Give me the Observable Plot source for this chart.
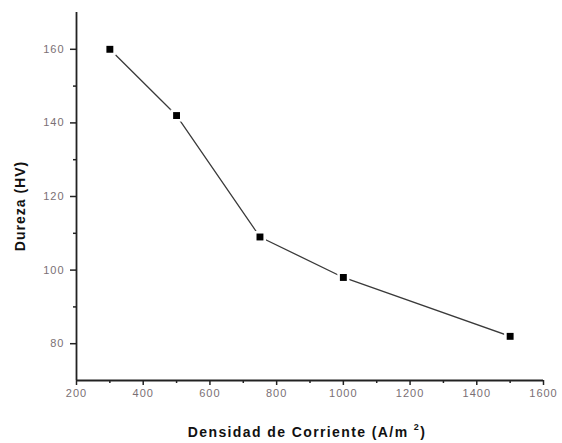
<!DOCTYPE html>
<html>
<head>
<meta charset="utf-8">
<script src="https://cdn.jsdelivr.net/npm/d3@7"></script>
<script src="https://cdn.jsdelivr.net/npm/@observablehq/plot@0.6"></script>
<style>
  html, body { margin: 0; padding: 0; background: #fff; }
  #chart { width: 562px; height: 443px; }
</style>
</head>
<body>
<div id="chart"></div>
<script>
const densidad = [300, 500, 750, 1000, 1500];
const dureza = [160, 142, 109, 98, 82];
const xTicks = [200, 400, 600, 800, 1000, 1200, 1400, 1600];
const xMinorTicks = [300, 500, 700, 900, 1100, 1300, 1500];
const yTicks = [80, 100, 120, 140, 160];
const yMinorTicks = [90, 110, 130, 150];
const xTitle = "Densidad de Corriente (A/m";
const xTitleSup = "2";
const yTitle = "Dureza (HV)";

const data = densidad.map((d, i) => ({x: d, y: dureza[i]}));
const labelColor = "#7a6f74";

const plot = Plot.plot({
  width: 562,
  height: 443,
  marginLeft: 76,
  marginRight: 19,
  marginTop: 12,
  marginBottom: 63,
  style: {fontFamily: "'Liberation Sans', Arial, sans-serif", background: "#fff"},
  x: {domain: [200, 1600]},
  y: {domain: [70, 170]},
  marks: [
    Plot.axisX(xTicks, {tickSize: 5, tickPadding: 4, stroke: "#222", strokeWidth: 1.5, fill: labelColor, fontSize: 11, label: null, tickFormat: d => String(d)}),
    Plot.axisX(xMinorTicks, {tickSize: 3, stroke: "#222", strokeWidth: 1.5, text: null, label: null}),
    Plot.axisY(yTicks, {tickSize: 6, tickPadding: 6, stroke: "#222", strokeWidth: 1.5, fill: labelColor, fontSize: 11, label: null}),
    Plot.axisY(yMinorTicks, {tickSize: 3, stroke: "#222", strokeWidth: 1.5, text: null, label: null}),
    Plot.ruleY([70], {stroke: "#222", strokeWidth: 1.8}),
    Plot.ruleX([200], {stroke: "#222", strokeWidth: 1.8}),
    Plot.line(data, {x: "x", y: "y", stroke: "#3a3a3a", strokeWidth: 1.3}),
    Plot.dot(data, {x: "x", y: "y", symbol: "square", r: 6.8, fill: "#fff", stroke: "none"}),
    Plot.dot(data, {x: "x", y: "y", symbol: "square", r: 3.9, fill: "#000", stroke: "none"})
  ]
});

const svg = d3.select(plot);
svg.selectAll("[aria-label='x-axis tick label'] text, [aria-label='y-axis tick label'] text")
  .style("letter-spacing", "1px");

const xt = svg.append("text")
  .attr("x", 307)
  .attr("y", 437)
  .attr("text-anchor", "middle")
  .attr("font-family", "'Liberation Sans', Arial, sans-serif")
  .attr("font-size", 14)
  .attr("font-weight", "bold")
  .attr("fill", "#111")
  .style("letter-spacing", "1.4px");
xt.append("tspan").text(xTitle + " ");
xt.append("tspan").attr("font-size", 9).attr("dy", -7).text(xTitleSup);
xt.append("tspan").attr("dy", 7).text(")");

svg.append("text")
  .attr("transform", "translate(25,206) rotate(-90)")
  .attr("text-anchor", "middle")
  .attr("font-family", "'Liberation Sans', Arial, sans-serif")
  .attr("font-size", 14)
  .attr("font-weight", "bold")
  .attr("fill", "#111")
  .style("letter-spacing", "1px")
  .text(yTitle);

document.getElementById("chart").appendChild(plot);
</script>
</body>
</html>
